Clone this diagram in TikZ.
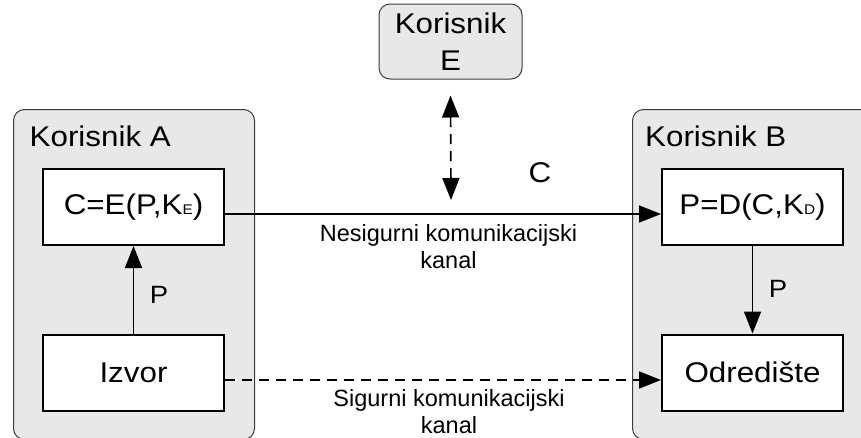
\documentclass[tikz,border=0pt]{standalone}
\usepackage{fontspec}
\setmainfont{Liberation Sans}[FakeStretch=1.1]
\newfontfamily\chanfont{Liberation Sans}
\usetikzlibrary{arrows.meta}
\definecolor{groupfill}{HTML}{E8E8E8}
\definecolor{groupline}{HTML}{3C3C3C}
\begin{document}
\begin{tikzpicture}[x=1pt,y=-1pt,
  group/.style={draw=groupline, fill=groupfill, line width=1pt, rounded corners=11pt,
    inner sep=0pt, anchor=north west},
  block/.style={draw=black, fill=white, line width=2pt, minimum width=181pt,
    minimum height=76pt, inner sep=0pt, font=\fontsize{28.5}{30}\selectfont},
  grouptitle/.style={inner sep=0pt, anchor=base west, font=\fontsize{28.5}{30}\selectfont},
  plabel/.style={inner sep=0pt, font=\fontsize{25}{27}\selectfont},
  chan/.style={inner sep=0pt, align=center, font=\chanfont\fontsize{23.5}{27}\selectfont},
  conn/.style={line width=1.7pt, -{Triangle[length=22pt,width=17pt]}},
  dconn/.style={conn, dash pattern=on 10pt off 7pt},
]
\useasboundingbox (0,0) rectangle (861,437);
\clip (0,0) rectangle (861,437);

% user groups
\node[group, minimum width=241pt, minimum height=330pt] (grpA) at (13,109) {};
\node[group, minimum width=250pt, minimum height=330pt] (grpB) at (632,109) {};
\node[grouptitle] (titA) at (29.5,146.7) {Korisnik A};
\node[grouptitle] (titB) at (645,146.7) {Korisnik B};

% eavesdropper
\node[draw=groupline, fill=groupfill, line width=1pt, rounded corners=11pt,
  minimum width=143pt, minimum height=75pt, inner sep=0pt, align=center,
  font=\fontsize{28.5}{37}\selectfont] (eve) at (450.5,41.5) {Korisnik\\E};
\coordinate (tap) at (451,200);

% processing blocks
\node[block] (enc) at (133.5,207) {C=E(P,K{\fontsize{14}{14}\selectfont E})};
\node[block] (src) at (133.5,372.5) {Izvor};
\node[block] (dec) at (752.5,207) {P=D(C,K{\fontsize{14}{14}\selectfont D})};
\node[block] (dst) at (752.5,372.5) {Odredište};

% connectors
\draw[conn] (src.north) -- (enc.south);
\draw[conn] (dec.south) -- (dst.north);
\draw[conn] ([yshift=-7pt]enc.east) -- ([yshift=-7pt]dec.west);
\draw[dconn] ([yshift=-7.5pt]src.east) -- ([yshift=-7.5pt]dst.west);
\draw[dconn, {Triangle[length=22pt,width=17pt]}-{Triangle[length=22pt,width=17pt]}]
  ([yshift=-16pt]eve.south) -- (tap);

% labels
\node[plabel] (pA) at (159,295) {P};
\node[plabel] (pB) at (778,289) {P};
\node[inner sep=0pt, font=\fontsize{28.5}{30}\selectfont] (cl) at (540,173) {C};
\node[chan] (nes) at (448.5,247) {Nesigurni komunikacijski\\kanal};
\node[chan] (sig) at (449,412) {Sigurni komunikacijski\\kanal};
\end{tikzpicture}
\end{document}
